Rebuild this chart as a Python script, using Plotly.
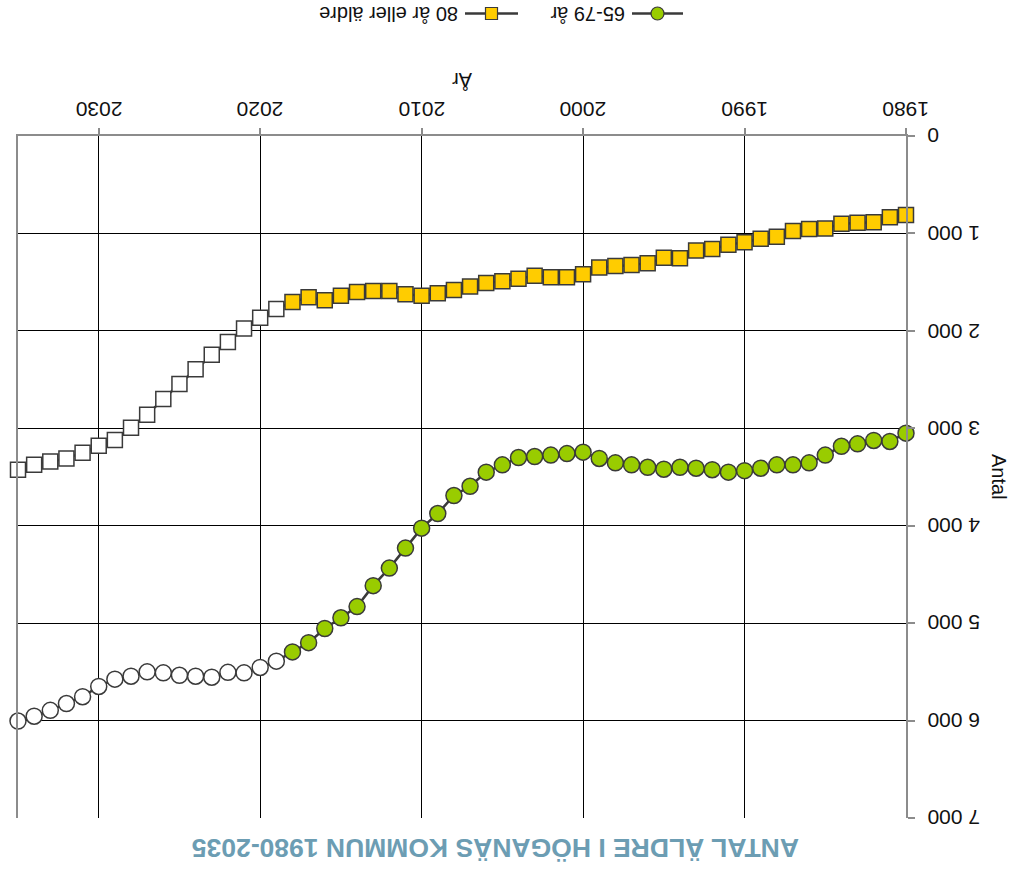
import plotly.graph_objects as go

# ---------------- data ----------------
years = list(range(1980, 2036))
last_observed_year = 2018

age_65_79 = [3050, 3135, 3125, 3160, 3185, 3275, 3355, 3375, 3375, 3410,
             3435, 3450, 3425, 3410, 3400, 3420, 3400, 3375, 3355, 3310,
             3245, 3260, 3275, 3290, 3300, 3375, 3450, 3595, 3690, 3875,
             4025, 4230, 4435, 4615, 4830, 4945, 5055, 5200, 5295, 5390,
             5455, 5510, 5505, 5555, 5545, 5535, 5510, 5500, 5545, 5575,
             5650, 5755, 5825, 5895, 5955, 6005]

age_80_plus = [810, 835, 885, 890, 900, 950, 955, 975, 1035, 1055,
               1090, 1115, 1160, 1175, 1255, 1250, 1305, 1325, 1335, 1350,
               1420, 1450, 1450, 1435, 1465, 1490, 1510, 1545, 1580, 1615,
               1640, 1625, 1590, 1590, 1600, 1640, 1685, 1655, 1705, 1775,
               1865, 1975, 2115, 2245, 2395, 2545, 2700, 2860, 2995, 3120,
               3180, 3250, 3310, 3340, 3375, 3425]

series_names = ["65-79 år", "80 år eller äldre"]
x_ticks = [1980, 1990, 2000, 2010, 2020, 2030]
x_tick_labels = [str(v) for v in x_ticks]
y_ticks = [0, 1000, 2000, 3000, 4000, 5000, 6000, 7000]
y_tick_labels = ["{:,}".format(v).replace(",", " ") for v in y_ticks]
title_text = "ANTAL ÄLDRE I HÖGANÄS KOMMUN 1980-2035"
x_title = "År"
y_title = "Antal"

# ---------------- style ----------------
W, H = 1025, 870
L, R, T, B = 18, 119, 136, 52
GREEN = "#99cc00"
YELLOW = "#ffcc00"
EDGE = "#3a3a3a"
AXIS = "#8c8c8c"
TXT = "#111111"
FONT = "Liberation Sans, Arial, sans-serif"


def px_x(px):
    return (px - L) / (W - L - R)


def px_y(py):
    return (H - B - py) / (H - T - B)


def fills(color):
    return [color if y <= last_observed_year else "white" for y in years]


fig = go.Figure()
fig.add_trace(go.Scatter(
    x=years, y=age_65_79, name=series_names[0], mode="lines+markers",
    line=dict(color=EDGE, width=2.5), cliponaxis=False,
    marker=dict(symbol="circle", size=16, color=fills(GREEN),
                line=dict(color=EDGE, width=1.5)),
    showlegend=False))
fig.add_trace(go.Scatter(
    x=years, y=age_80_plus, name=series_names[1], mode="lines+markers",
    line=dict(color=EDGE, width=2.5), cliponaxis=False,
    marker=dict(symbol="square", size=15, color=fills(YELLOW),
                line=dict(color=EDGE, width=1.5)),
    showlegend=False))

fig.update_xaxes(
    range=[2035, 1980], side="top", tickvals=x_ticks, showticklabels=False,
    ticks="outside", ticklen=6, tickcolor=AXIS, tickwidth=2,
    showline=True, linecolor=AXIS, linewidth=2,
    showgrid=True, gridcolor="black", gridwidth=1, zeroline=False)
fig.update_yaxes(
    range=[7000, 0], side="right", tickvals=y_ticks, showticklabels=False,
    ticks="outside", ticklen=7, tickcolor=AXIS, tickwidth=2,
    showline=True, linecolor=AXIS, linewidth=2, mirror=True,
    showgrid=True, gridcolor="black", gridwidth=1, zeroline=False)

tick_font = dict(family=FONT, size=21, color=TXT)
annotations = []
# upside-down tick labels placed through the axis scales
for v, t in zip(x_ticks, x_tick_labels):
    annotations.append(dict(text=t, x=v, xref="x", y=px_y(110), yref="paper",
                            xanchor="center", yanchor="middle",
                            showarrow=False, textangle=180, font=tick_font))
for v, t in zip(y_ticks, y_tick_labels):
    annotations.append(dict(text=t, x=px_x(925), xref="paper", y=v, yref="y",
                            xanchor="left", yanchor="middle",
                            showarrow=False, textangle=180, font=tick_font))

other = [
    dict(text="<b>" + title_text + "</b>", x=px_x(496), y=px_y(848),
         font=dict(family=FONT, size=26.5, color="#6c9db3")),
    dict(text=x_title, x=px_x(462), y=px_y(80),
         font=dict(family=FONT, size=20, color=TXT)),
    dict(text=series_names[0], x=px_x(587.5), y=px_y(14),
         font=dict(family=FONT, size=20, color=TXT)),
    dict(text=series_names[1], x=px_x(389), y=px_y(14),
         font=dict(family=FONT, size=20, color=TXT)),
]
for a in other:
    a.update(xref="paper", yref="paper", xanchor="center", yanchor="middle",
             showarrow=False, textangle=180)
annotations += other
annotations.append(dict(text=y_title, x=px_x(999), y=px_y(477), xref="paper",
                        yref="paper", xanchor="center", yanchor="middle",
                        showarrow=False, textangle=90,
                        font=dict(family=FONT, size=20, color=TXT)))

ly = px_y(13.5)
shapes = [
    dict(type="line", xref="paper", yref="paper", x0=px_x(632), x1=px_x(683),
         y0=ly, y1=ly, line=dict(color=EDGE, width=2.5)),
    dict(type="circle", xref="paper", yref="paper", xsizemode="pixel",
         ysizemode="pixel", xanchor=px_x(657.5), yanchor=ly,
         x0=-6.5, x1=6.5, y0=-6.5, y1=6.5,
         fillcolor=GREEN, line=dict(color=EDGE, width=1.2)),
    dict(type="line", xref="paper", yref="paper", x0=px_x(465), x1=px_x(518),
         y0=ly, y1=ly, line=dict(color=EDGE, width=2.5)),
    dict(type="rect", xref="paper", yref="paper", xsizemode="pixel",
         ysizemode="pixel", xanchor=px_x(491.5), yanchor=ly,
         x0=-6, x1=6, y0=-6, y1=6,
         fillcolor=YELLOW, line=dict(color=EDGE, width=1.2)),
]

fig.update_layout(
    width=W, height=H, margin=dict(l=L, r=R, t=T, b=B, autoexpand=False),
    paper_bgcolor="white", plot_bgcolor="white",
    font=dict(family=FONT), annotations=annotations, shapes=shapes,
    showlegend=False)

fig.write_html("out.html", config={"displayModeBar": False},
               post_script="document.body.style.margin='0';document.body.style.overflow='hidden';")
